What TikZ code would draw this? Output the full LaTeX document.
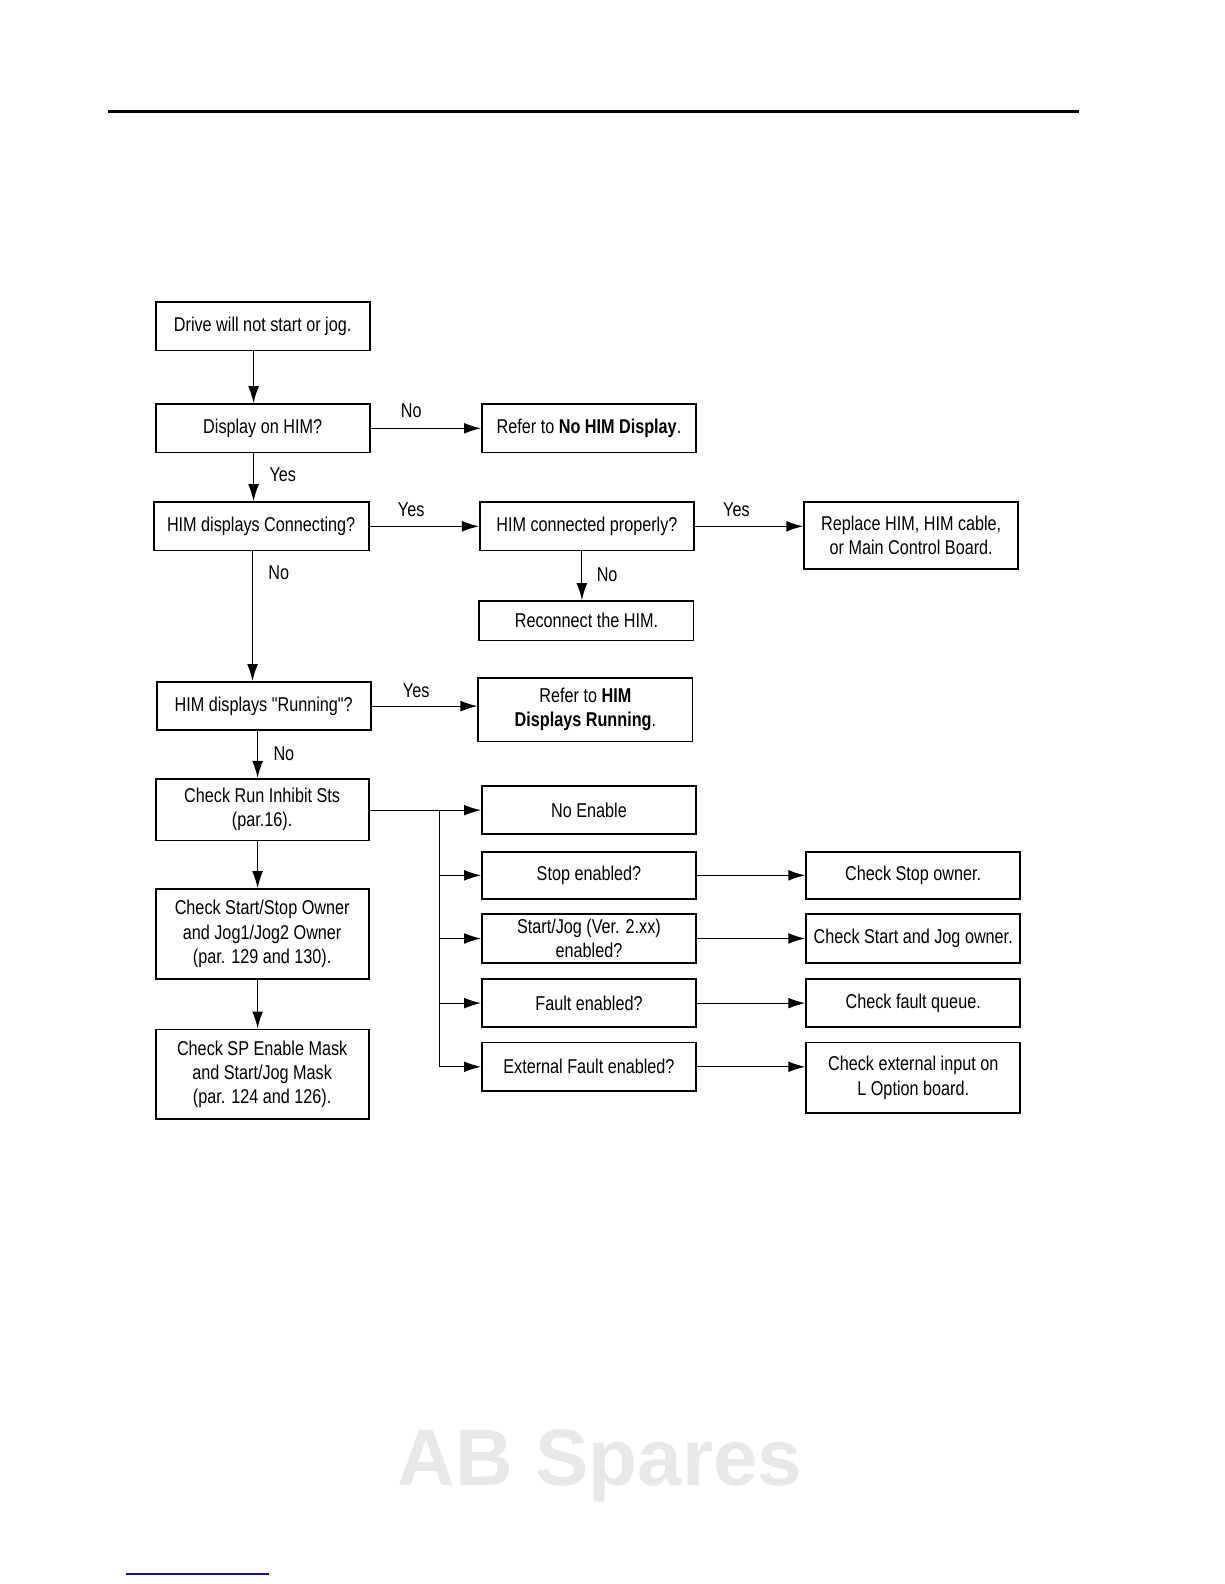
\documentclass[tikz,border=0pt]{standalone}
\usepackage{fontspec}
\setmainfont{Liberation Sans}[FakeStretch=0.81, Ligatures=TeXOff]
\newfontfamily\wmfont{Liberation Sans}
\usetikzlibrary{arrows.meta}
\definecolor{wmgray}{RGB}{232,232,232}
\definecolor{rulenavy}{RGB}{20,20,150}
\begin{document}
\begin{tikzpicture}[x=0.50495pt,y=-0.50495pt,
  box/.style={draw, line width=0.9pt, minimum width=107pt, minimum height=24.2pt,
    align=center, inner sep=0pt, font=\fontsize{10}{12.1}\selectfont},
  lbl/.style={inner sep=0pt, font=\fontsize{10}{12.1}\selectfont},
  arr/.style={line width=0.6pt, -{Latex[length=8.5pt,width=5.4pt]}},
  ln/.style={line width=0.6pt}]
\useasboundingbox (0,0) rectangle (1212,1568);
\draw[line width=1.5pt] (107,110) -- (1068,110);
\draw[line width=0.6pt, rulenavy] (125,1558) -- (266,1558);
\node[anchor=base, text=wmgray, font=\wmfont\fontsize{40}{40}\selectfont\bfseries] (wm) at (594,1470) {AB Spares};

% column coordinates
\coordinate (c251) at (251,0);
\coordinate (c250) at (250,0);
\coordinate (c255) at (255,0);
\coordinate (c576) at (576,0);
\coordinate (bus) at (435,0);

% left column
\node[box] (b1) at (260,323) {Drive will not start or jog.};
\node[box] (b2) at (260,424) {Display on HIM?};
\node[box, minimum width=107.5pt] (b4) at (258.5,521) {HIM displays Connecting?};
\node[box] (b8) at (261,699) {HIM displays "Running"?};
\node[box, minimum width=106.5pt, minimum height=30.8pt] (b10) at (259.5,801.5) {Check Run Inhibit Sts\\(par.16).};
\node[box, minimum width=106.5pt, minimum height=44.9pt] (b11) at (259.5,924.5) {Check Start/Stop Owner\\and Jog1/Jog2 Owner\\(par. 129 and 130).};
\node[box, minimum width=106.5pt, minimum height=44.9pt] (b12) at (259.5,1063.5) {Check SP Enable Mask\\and Start/Jog Mask\\(par. 124 and 126).};

% middle column
\node[box] (b3) at (583,424) {Refer to \textbf{No HIM Display}.};
\node[box] (b5) at (581,521) {HIM connected properly?};
\node[box, minimum height=19.7pt] (b7) at (580.5,614.5) {Reconnect the HIM.};
\node[box, minimum height=31.8pt] (b9) at (579.5,702.5) {Refer to \textbf{HIM}\\\textbf{Displays Running}.};
\node[box] (b13) at (583,802) {No Enable};
\node[box, minimum height=23.7pt] (b14) at (583,866.5) {Stop enabled?};
\node[box] (b15) at (583,929) {Start/Jog (Ver. 2.xx)\\enabled?};
\node[box] (b16) at (583,993) {Fault enabled?};
\node[box] (b17) at (583,1056) {External Fault enabled?};

% right column
\node[box, minimum height=33.3pt] (b6) at (902,530) {Replace HIM, HIM cable,\\or Main Control Board.};
\node[box, minimum height=23.7pt] (b18) at (904,866.5) {Check Stop owner.};
\node[box] (b19) at (904,929) {Check Start and Jog owner.};
\node[box] (b20) at (904,993) {Check fault queue.};
\node[box, minimum height=35.3pt] (b21) at (904,1067) {Check external input on\\L Option board.};

% connectors
\draw[arr] (b1.south -| c251) -- (b2.north -| c251);
\draw[arr] (b2.east) -- (b3.west);
\draw[arr] (b2.south -| c251) -- (b4.north -| c251);
\draw[arr] (b4.east) -- (b5.west);
\draw[arr] (b5.east) -- (b5.east -| b6.west);
\draw[arr] (b5.south -| c576) -- (b7.north -| c576);
\draw[arr] (b4.south -| c250) -- (b8.north -| c250);
\draw[arr] (b8.east) -- (b8.east -| b9.west);
\draw[arr] (b8.south -| c255) -- (b10.north -| c255);
\draw[arr] (b10.south -| c255) -- (b11.north -| c255);
\draw[arr] (b11.south -| c255) -- (b12.north -| c255);

\draw[arr] (b13.west -| b10.east) -- (b13.west);
\draw[ln] (bus |- b13.west) -- (bus |- b17.west);
\draw[arr] (bus |- b14.west) -- (b14.west);
\draw[arr] (bus |- b15.west) -- (b15.west);
\draw[arr] (bus |- b16.west) -- (b16.west);
\draw[arr] (bus |- b17.west) -- (b17.west);

\draw[arr] (b14.east) -- (b18.west);
\draw[arr] (b15.east) -- (b19.west);
\draw[arr] (b16.east) -- (b20.west);
\draw[arr] (b17.east) -- (b17.east -| b21.west);

% labels
\node[lbl] (l1) at (407,407) {No};
\node[lbl] (l2) at (280,470) {Yes};
\node[lbl] (l3) at (407,505) {Yes};
\node[lbl] (l4) at (729,505) {Yes};
\node[lbl] (l5) at (601,569) {No};
\node[lbl] (l6) at (276,567) {No};
\node[lbl] (l7) at (412,684) {Yes};
\node[lbl] (l8) at (281,746) {No};
\end{tikzpicture}
\end{document}
